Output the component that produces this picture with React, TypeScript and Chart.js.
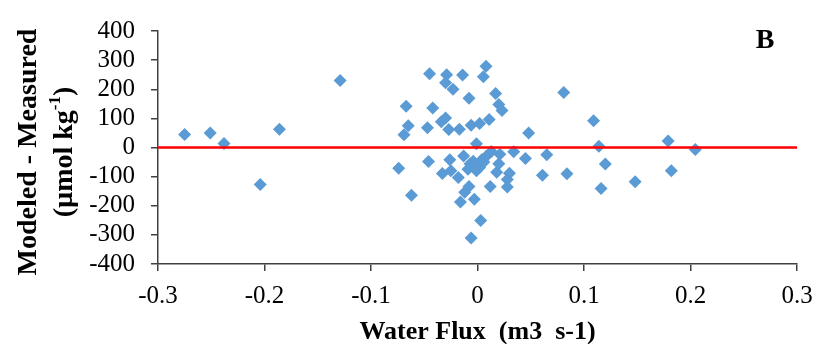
import React, { useEffect, useRef } from "react";
import { Chart, registerables } from "chart.js";

Chart.register(...registerables);

const xValues: number[] = [
  -0.275, -0.251, -0.238, -0.186, -0.204, -0.129,
  -0.074, -0.067, -0.065, -0.069, -0.062,
  -0.047, -0.045, -0.042, -0.046,
  -0.029, -0.030, -0.023, -0.014, -0.008,
  -0.034, -0.030, -0.027, -0.017, -0.006, 0.002, -0.001,
  -0.026, -0.033, -0.025, -0.018, -0.013, -0.009, -0.004,
  -0.008, -0.012, -0.016, -0.003, 0.003, -0.006,
  0.000, 0.004, -0.001, 0.008, 0.002, -0.007, 0.006, -0.003,
  0.008, 0.0055, 0.017, 0.020, 0.023, 0.011,
  0.048, 0.081, 0.109, 0.114, 0.179, 0.2045,
  0.120, 0.116, 0.148, 0.182, 0.084, 0.061, 0.065, 0.045, 0.034, 0.021, 0.013,
  0.020, 0.018, 0.030, 0.028, 0.028, 0.012,
];
const yValues: number[] = [
  45, 50, 14, 63, -127, 230,
  -71, 142, 75, 44, -164,
  68, 253, 136, -48,
  250, 222, 200, 249, 169,
  88, 101, 62, 63, 76, 82, 13,
  -42, -89, -80, -103, -29, -75, -47,
  -134, -154, -187, -178, -251, -311,
  -58, -42, -80, -31, -69, -56, -50, -65,
  279, 243, 185, 148, 127, 96,
  50, 189, 92, 4, 22, -7,
  -57, -141, -118, -80, -90, -95, -25, -38, -15, -23, -14,
  -56, -85, -88, -110, -136, -134,
];
const zeroLineX: number[] = [-0.3, 0.3];
const zeroLineY: number[] = [0, 0];

const xTitle = "Water Flux  (m3  s-1)";
const yTitleLine1 = "Modeled - Measured";
const yTitleLine2a = "(µmol kg";
const yTitleSup = "-1";
const yTitleLine2b = ")";
const panelLabel = "B";

const SERIF = "'Liberation Serif', 'Times New Roman', serif";

export default function App() {
  const canvasRef = useRef<HTMLCanvasElement | null>(null);

  useEffect(() => {
    const canvas = canvasRef.current;
    if (!canvas) return;

    const textPlugin = {
      id: "customText",
      afterDraw(chart: any) {
        const ctx = chart.ctx as CanvasRenderingContext2D;
        ctx.save();
        ctx.fillStyle = "#000000";
        // Panel label
        ctx.font = `bold 28px ${SERIF}`;
        ctx.textAlign = "center";
        ctx.textBaseline = "middle";
        ctx.fillText(panelLabel, 765, 41);
        // x title
        ctx.font = `bold 26px ${SERIF}`;
        ctx.textBaseline = "alphabetic";
        ctx.fillText(xTitle, (chart.chartArea.left + chart.chartArea.right) / 2, 339);
        // y title line 1
        ctx.save();
        ctx.translate(29, 152);
        ctx.rotate(-Math.PI / 2);
        ctx.font = `bold 28px ${SERIF}`;
        ctx.textAlign = "center";
        ctx.textBaseline = "middle";
        ctx.fillText(yTitleLine1, 0, 0);
        ctx.restore();
        // y title line 2 with superscript
        ctx.save();
        ctx.translate(65, 152);
        ctx.rotate(-Math.PI / 2);
        ctx.textBaseline = "middle";
        ctx.textAlign = "left";
        const bigFont = `bold 28px ${SERIF}`;
        const smallFont = `bold 17px ${SERIF}`;
        ctx.font = bigFont;
        const wA = ctx.measureText(yTitleLine2a).width;
        const wC = ctx.measureText(yTitleLine2b).width;
        ctx.font = smallFont;
        const wB = ctx.measureText(yTitleSup).width;
        const total = wA + wB + wC;
        let xPos = -total / 2;
        ctx.font = bigFont;
        ctx.fillText(yTitleLine2a, xPos, 0);
        xPos += wA;
        ctx.font = smallFont;
        ctx.fillText(yTitleSup, xPos, -9);
        xPos += wB;
        ctx.font = bigFont;
        ctx.fillText(yTitleLine2b, xPos, 0);
        ctx.restore();
        ctx.restore();
      },
    };

    const points = xValues.map((x, i) => ({ x, y: yValues[i] }));
    const zeroLine = zeroLineX.map((x, i) => ({ x, y: zeroLineY[i] }));

    const chart = new Chart(canvas, {
      type: "scatter",
      data: {
        datasets: [
          {
            type: "line",
            data: zeroLine,
            borderColor: "#FF0000",
            borderWidth: 2.5,
            pointRadius: 0,
            showLine: true,
            fill: false,
          } as any,
          {
            data: points,
            pointStyle: "rectRot",
            pointRadius: 6.5,
            pointBackgroundColor: "#5B9BD5",
            pointBorderColor: "#5B9BD5",
            pointBorderWidth: 0,
            backgroundColor: "#5B9BD5",
            borderColor: "#5B9BD5",
          },
        ],
      },
      options: {
        responsive: false,
        animation: false,
        events: [],
        layout: { padding: { left: 0, right: 30, top: 20, bottom: 0 } },
        plugins: {
          legend: { display: false },
          tooltip: { enabled: false },
          title: { display: false },
        },
        scales: {
          x: {
            type: "linear",
            min: -0.3,
            max: 0.3,
            ticks: {
              stepSize: 0.1,
              autoSkip: false,
              color: "#000000",
              font: { family: SERIF, size: 25 },
              padding: 10,
              maxRotation: 0,
              callback: (v: any) => {
                const n = Math.round(Number(v) * 10) / 10;
                return n === 0 ? "0" : String(n);
              },
            },
            grid: {
              drawOnChartArea: false,
              drawTicks: true,
              tickLength: 7,
              color: "#404040",
              lineWidth: 1.5,
            },
            border: { display: true, color: "#404040", width: 1.5 },
            afterFit: (scale: any) => {
              scale.height = 80;
            },
          },
          y: {
            type: "linear",
            min: -400,
            max: 400,
            ticks: {
              stepSize: 100,
              autoSkip: false,
              color: "#000000",
              font: { family: SERIF, size: 25 },
              padding: 16,
            },
            grid: {
              drawOnChartArea: false,
              drawTicks: true,
              tickLength: 7,
              color: "#404040",
              lineWidth: 1.5,
            },
            border: { display: true, color: "#404040", width: 1.5 },
            afterFit: (scale: any) => {
              scale.width = 158;
            },
          },
        },
      },
      plugins: [textPlugin],
    });

    return () => {
      chart.destroy();
    };
  }, []);

  return (
    <div style={{ position: "absolute", left: 0, top: 0, width: 827, height: 344, background: "#ffffff" }}>
      <canvas ref={canvasRef} width={827} height={344} />
    </div>
  );
}
